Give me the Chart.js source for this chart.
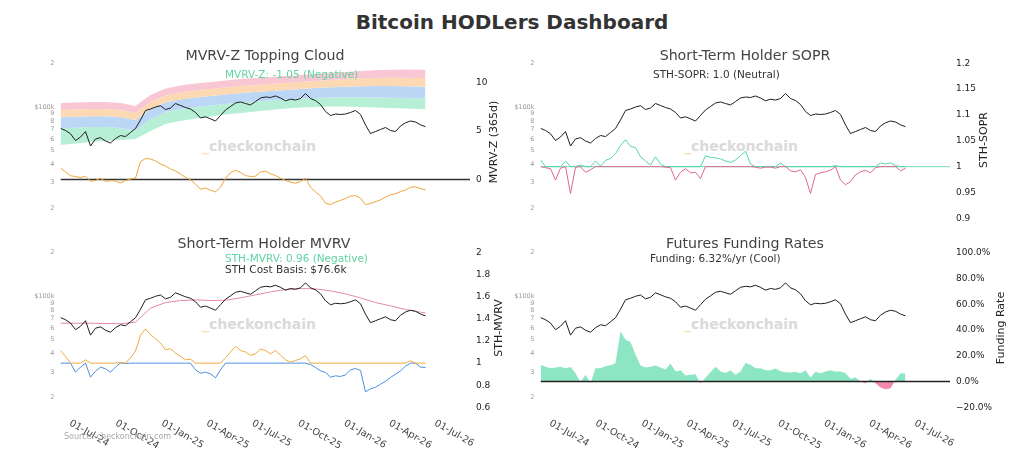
<!DOCTYPE html>
<html lang="en">
<head>
<meta charset="UTF-8" />
<title>Bitcoin HODLers Dashboard</title>
<script src="https://cdn.jsdelivr.net/npm/chart.js@4"></script>
<style>
  body { margin: 0; width: 1024px; height: 473px; background: #fff; position: relative; overflow: hidden;
         font-family: "DejaVu Sans", Verdana, sans-serif; }
  .box { position: absolute; }
  .t { position: absolute; white-space: nowrap; color: #333; }
  .c { transform: translate(-50%, -50%); }
  .l { transform: translateY(-50%); }
  .v { transform: translate(-50%, -50%) rotate(-90deg); font-size: 11px; color: #222; }
  .ttl { font-size: 14.2px; color: #444; }
  .sub { font-size: 10.5px; }
  .wm { font-weight: bold; font-size: 14px; color: #dadada; }
  .wm span { color: #f4e3b0; }
</style>
</head>
<body>
  <!-- watermarks sit under the charts -->
  <div class="t c wm" style="left:259px;top:146px"><span>_</span>checkonchain</div>
  <div class="t c wm" style="left:741px;top:146px"><span>_</span>checkonchain</div>
  <div class="t c wm" style="left:259px;top:324px"><span>_</span>checkonchain</div>
  <div class="t c wm" style="left:741px;top:324px"><span>_</span>checkonchain</div>

  <div class="box" style="left:0;top:40px;width:512px;height:190px"><canvas id="mvrvz"></canvas></div>
  <div class="box" style="left:490px;top:40px;width:534px;height:190px"><canvas id="sopr"></canvas></div>
  <div class="box" style="left:0;top:230px;width:512px;height:243px"><canvas id="mvrv"></canvas></div>
  <div class="box" style="left:490px;top:230px;width:534px;height:243px"><canvas id="funding"></canvas></div>

  <div class="t c" style="left:512px;top:22px;font-size:20px;font-weight:bold;color:#333">Bitcoin HODLers Dashboard</div>

  <div class="t c ttl" style="left:265px;top:55px">MVRV-Z Topping Cloud</div>
  <div class="t c ttl" style="left:745px;top:55px">Short-Term Holder SOPR</div>
  <div class="t c ttl" style="left:264px;top:243px">Short-Term Holder MVRV</div>
  <div class="t c ttl" style="left:745px;top:243px">Futures Funding Rates</div>

  <div class="t l sub" style="left:225px;top:74px;color:#5fd3a4">MVRV-Z: -1.05 (Negative)</div>
  <div class="t l sub" style="left:653px;top:74px">STH-SOPR: 1.0 (Neutral)</div>
  <div class="t l sub" style="left:225px;top:258px;color:#5fd3a4">STH-MVRV: 0.96 (Negative)</div>
  <div class="t l sub" style="left:225px;top:269px">STH Cost Basis: $76.6k</div>
  <div class="t l sub" style="left:650px;top:258px">Funding: 6.32%/yr (Cool)</div>

  <div class="t v" style="left:493px;top:142px">MVRV-Z (365d)</div>
  <div class="t v" style="left:983px;top:140px">STH-SOPR</div>
  <div class="t v" style="left:498px;top:328px">STH-MVRV</div>
  <div class="t v" style="left:1000px;top:328px">Funding Rate</div>

  <div class="t l" style="left:64px;top:436px;font-size:8px;color:#aaa">Source: checkonchain.com</div>

<script>
// daily-ish samples, one every 10 days from the first date
const startDate = '2024-06-07';
const stepDays = 10;

// BTC price, $k
const price = [71.2, 68.8, 65.3, 58.7, 62.0, 67.7, 53.8, 60.1, 61.4, 58.2, 56.4, 60.6, 63.5, 62.5, 66.6, 71.0,
  81.3, 94.5, 96.8, 99.9, 102.0, 96.0, 98.3, 105.6, 102.3, 99.1, 96.8, 91.6, 83.9, 85.5, 82.8, 80.0,
  87.3, 95.3, 100.7, 106.5, 108.2, 105.6, 103.2, 109.0, 115.3, 117.1, 116.2, 119.0, 115.3, 110.2, 113.1,
  111.6, 114.3, 123.8, 114.3, 110.7, 104.0, 93.0, 87.3, 89.4, 88.7, 89.4, 91.6, 94.5, 88.7, 75.1, 65.6,
  67.7, 69.9, 72.1, 68.8, 67.7, 73.9, 77.8, 80.0, 78.7, 75.3, 73.1];

const mvrvZ = [1.21, 0.78, 0.39, 0.31, 0.21, 0.34, -0.16, -0.10, 0.14, -0.21, -0.10, -0.16, -0.36, -0.10, 0.05,
  0.16, 1.86, 2.17, 2.12, 1.93, 1.60, 1.40, 1.09, 0.88, 0.57, 0.23, -0.03, -0.47, -1.00, -0.88, -1.10, -1.27,
  -0.78, 0.10, 0.72, 0.95, 0.74, 0.41, 0.31, 0.35, 0.78, 0.85, 0.59, 0.41, 0.16, -0.10, -0.26, -0.38, -0.21,
  0.13, -0.80, -1.27, -1.69, -2.43, -2.59, -2.33, -2.15, -1.96, -1.71, -1.65, -1.91, -2.59, -2.46, -2.28,
  -2.10, -1.83, -1.58, -1.47, -1.24, -1.07, -0.79, -0.75, -0.93, -1.05];

const sthSopr = [1.013, 0.998, 0.996, 0.974, 0.997, 1.011, 0.948, 0.999, 1.003, 0.989, 0.994, 1.011, 1.001,
  1.012, 1.016, 1.025, 1.041, 1.052, 1.039, 1.037, 1.019, 1.011, 1.003, 1.019, 1.005, 0.999, 0.998, 0.974,
  0.989, 0.996, 0.988, 0.989, 0.977, 1.021, 1.018, 1.017, 1.015, 1.011, 1.008, 1.013, 1.021, 1.030, 1.005,
  0.999, 0.997, 0.999, 0.999, 0.997, 1.007, 1.000, 0.992, 0.990, 0.994, 0.979, 0.948, 0.985, 0.988, 0.990,
  0.993, 1.002, 0.974, 0.965, 0.971, 0.984, 0.990, 0.993, 0.988, 0.998, 1.007, 1.005, 1.007, 1.002, 0.992, 0.997];

const sthMvrv = [1.115, 1.061, 1.000, 0.918, 0.964, 1.030, 0.873, 0.927, 0.964, 0.948, 0.918, 0.964, 1.006,
  0.997, 1.048, 1.109, 1.252, 1.310, 1.258, 1.221, 1.182, 1.121, 1.130, 1.091, 1.061, 1.030, 1.036, 0.939,
  0.909, 0.918, 0.903, 0.867, 0.939, 1.048, 1.100, 1.152, 1.115, 1.100, 1.070, 1.085, 1.127, 1.115, 1.085,
  1.115, 1.073, 1.030, 1.009, 1.024, 1.039, 1.067, 0.988, 0.961, 0.930, 0.915, 0.873, 0.885, 0.879, 0.894,
  0.939, 0.952, 0.933, 0.740, 0.767, 0.782, 0.809, 0.836, 0.870, 0.900, 0.930, 0.973, 1.021, 1.000, 0.964, 0.960];

// annualised funding, %
const funding = [13.0, 11.4, 10.4, 10.9, 11.4, 10.4, 11.2, 6.5, -0.5, 5.2, -1.3, 10.4, 10.4, 11.9, 12.7, 14.3,
  38.9, 32.4, 30.6, 20.8, 12.5, 10.9, 11.4, 12.5, 10.9, 9.3, 14.0, 7.8, 8.8, 4.7, 5.2, 5.7, -1.5, 3.0, 7.3,
  11.4, 7.8, 6.7, 8.8, 5.2, 7.8, 14.3, 13.0, 10.4, 10.4, 8.8, 8.8, 10.1, 8.0, 7.3, 7.0, 7.5, 6.5, 8.8, 3.1,
  7.5, 6.5, 7.8, 8.8, 7.8, 7.8, 6.5, 2.1, 3.1, 0.0, -1.3, 2.1, -1.3, -4.7, -6.0, -5.2, 1.3, 6.5, 6.3];

// smooth price-level lines, sampled every 30 days ($k)
const bandDays = [0, 30, 60, 90, 120, 150, 180, 210, 240, 270, 300, 330, 360, 390, 420, 450, 480, 510, 540,
  570, 600, 630, 660, 690, 720, 730];
const cloudTop = [106.4, 107.3, 108.2, 108.2, 106.4, 101.5, 120.9, 134.1, 140.6, 145.1, 148.6, 152.2, 155.8,
  158.4, 160.9, 163.5, 166.1, 168.7, 171.4, 174.2, 177.0, 179.0, 180.4, 181.3, 180.4, 179.8];
const cloudPinkOrange = [95.3, 96.0, 96.8, 96.8, 95.3, 90.8, 108.2, 119.9, 125.8, 129.9, 133.0, 136.2, 139.5,
  141.7, 144.0, 146.3, 148.6, 151.0, 153.4, 155.8, 157.6, 158.4, 158.9, 158.9, 158.4, 157.6];
const cloudOrangeBlue = [84.8, 85.5, 86.2, 86.2, 84.8, 81.3, 96.8, 107.3, 112.5, 116.2, 119.0, 121.9, 124.8,
  126.8, 128.8, 130.9, 133.0, 135.1, 136.6, 137.9, 138.8, 139.5, 139.5, 139.0, 138.4, 137.9];
const cloudBlueGreen = [71.2, 71.9, 72.7, 72.7, 71.6, 68.8, 82.6, 92.3, 96.8, 99.9, 102.3, 104.8, 107.3,
  109.0, 110.8, 112.5, 114.3, 115.3, 116.2, 116.6, 116.6, 116.2, 115.6, 115.3, 114.9, 114.7];
const cloudBottom = [54.6, 56.0, 57.3, 58.2, 59.2, 60.1, 68.2, 76.3, 80.0, 83.2, 85.9, 88.7, 90.8, 93.0,
  95.3, 97.6, 99.1, 99.9, 100.7, 100.7, 99.9, 99.1, 98.3, 97.6, 96.8, 96.3];
const costBasis = [65.1, 65.1, 65.1, 64.8, 64.5, 66.2, 82.7, 90.4, 93.4, 94.4, 93.4, 93.9, 97.4, 102.2, 107.2,
  111.2, 113.0, 112.4, 108.9, 103.8, 97.4, 90.4, 85.8, 80.9, 77.5, 76.6];

// ticks
const tickDates = ['2024-07-01', '2024-10-01', '2025-01-01', '2025-04-01', '2025-07-01', '2025-10-01',
  '2026-01-01', '2026-04-01', '2026-07-01'];
const tickLabels = ['01-Jul-24', '01-Oct-24', '01-Jan-25', '01-Apr-25', '01-Jul-25', '01-Oct-25',
  '01-Jan-26', '01-Apr-26', '01-Jul-26'];
const priceTicks = [20000, 30000, 40000, 50000, 60000, 70000, 80000, 90000, 100000, 200000];
const priceTickLabels = ['2', '3', '4', '5', '6', '7', '8', '9', '$100k', '2'];
const mvrvZTicks = [0, 5, 10];
const soprTicks = [0.9, 0.95, 1, 1.05, 1.1, 1.15, 1.2];
const mvrvTicks = [0.6, 0.8, 1, 1.2, 1.4, 1.6, 1.8, 2];
const fundingTicks = [-0.2, 0, 0.2, 0.4, 0.6, 0.8, 1];

Chart.defaults.font.family = '"DejaVu Sans", Verdana, sans-serif';

const day0 = Date.parse(startDate);
const dayOf = s => (Date.parse(s) - day0) / 864e5;
const series = (arr, f = v => v) => arr.map((v, i) => ({ x: i * stepDays, y: f(v) }));
const bandSeries = arr => arr.map((v, i) => ({ x: bandDays[i], y: v * 1000 }));
const lastDay = (price.length - 1) * stepDays;
const hline = v => [{ x: 0, y: v }, { x: 819, y: v }];

// rotated date labels, running down to the right
const dateTicks = {
  id: 'dateTicks',
  afterDraw(chart, args, opts) {
    if (!opts.show) return;
    const { ctx, chartArea, scales: { x } } = chart;
    ctx.save();
    ctx.font = '9.7px "DejaVu Sans"';
    ctx.fillStyle = '#444';
    ctx.textAlign = 'left';
    ctx.textBaseline = 'top';
    tickDates.forEach((d, i) => {
      ctx.save();
      ctx.translate(x.getPixelForValue(dayOf(d)), chartArea.bottom + 11);
      ctx.rotate(Math.PI / 6);
      ctx.fillText(tickLabels[i], 0, 0);
      ctx.restore();
    });
    ctx.restore();
  }
};

const priceLine = () => ({ data: series(price, v => v * 1000), yAxisID: 'yP', borderColor: '#1e1e1e', borderWidth: 1, order: 0 });

function panel(id, o) {
  return new Chart(document.getElementById(id), {
    type: 'line',
    data: { datasets: o.datasets },
    options: {
      responsive: true,
      maintainAspectRatio: false,
      animation: false,
      layout: { padding: { top: o.top, bottom: o.bottom, left: 0, right: 0 } },
      plugins: { legend: { display: false }, tooltip: { enabled: false }, dateTicks: { show: o.dates } },
      elements: { point: { radius: 0 }, line: { borderWidth: 1, tension: 0 } },
      scales: {
        x: { type: 'linear', min: 0, max: 819, display: false },
        yP: {
          type: 'logarithmic', position: 'left', min: 17060, max: 200000, bounds: 'data',
          afterFit: a => { a.width = o.leftW; },
          afterBuildTicks: a => { a.ticks = priceTicks.map(v => ({ value: v })); },
          grid: { display: false, drawTicks: false }, border: { display: false },
          ticks: { autoSkip: false, padding: 6, color: '#9a9a9a', font: { size: 6.5 },
                   callback: v => priceTickLabels[priceTicks.indexOf(v)] }
        },
        yR: {
          type: 'linear', position: 'right', min: o.rMin, max: o.rMax, bounds: 'data',
          afterFit: a => { a.width = o.rightW; },
          afterBuildTicks: a => { a.ticks = o.rTicks.map(v => ({ value: v })); },
          grid: { display: false, drawTicks: false }, border: { display: false },
          ticks: { autoSkip: false, padding: 6, color: '#222', font: { size: 9 }, callback: o.rFmt }
        }
      }
    },
    plugins: [dateTicks]
  });
}

const band = (arr, color, order) => ({ data: bandSeries(arr), yAxisID: 'yP', borderWidth: 0,
  borderColor: 'rgba(0,0,0,0)', backgroundColor: color, fill: color ? '-1' : false, order });
const plain = v => String(+v.toFixed(2));

// MVRV-Z topping cloud
panel('mvrvz', {
  top: 23.3, bottom: 11.7, leftW: 60.5, rightW: 42, dates: false,
  rMin: -4, rMax: 12, rTicks: mvrvZTicks, rFmt: plain,
  datasets: [
    band(cloudBottom, null, 9),
    band(cloudBlueGreen, '#b7eed6', 8),
    band(cloudOrangeBlue, '#bcd7f6', 7),
    band(cloudPinkOrange, '#fcd9b2', 6),
    band(cloudTop, '#f9c7d3', 5),
    priceLine(),
    { data: hline(0), yAxisID: 'yR', borderColor: '#333', borderWidth: 1.5, order: 2 },
    { data: series(mvrvZ), yAxisID: 'yR', borderColor: '#f0a43a', borderWidth: 1, order: 1 }
  ]
});

// STH SOPR
panel('sopr', {
  top: 23.3, bottom: 11.7, leftW: 50.5, rightW: 74, dates: false,
  rMin: 0.9, rMax: 1.2, rTicks: soprTicks, rFmt: plain,
  datasets: [
    priceLine(),
    { data: hline(1), yAxisID: 'yR', borderColor: '#8fe2c2', borderWidth: 1.2, order: 4 },
    { data: series(sthSopr, v => Math.max(v, 1)), yAxisID: 'yR', borderColor: '#52d6a2', borderWidth: 1, order: 2 },
    { data: series(sthSopr, v => Math.min(v, 1)), yAxisID: 'yR', borderColor: '#e0668f', borderWidth: 1, order: 1 }
  ]
});

// STH MVRV
panel('mvrv', {
  top: 22.7, bottom: 65.7, leftW: 60.5, rightW: 42, dates: true,
  rMin: 0.6, rMax: 2, rTicks: mvrvTicks, rFmt: plain,
  datasets: [
    priceLine(),
    { data: bandSeries(costBasis), yAxisID: 'yP', borderColor: '#e38aa6', borderWidth: 1, order: 1 },
    { data: series(sthMvrv, v => Math.max(v, 1)), yAxisID: 'yR', borderColor: '#f0a93c', borderWidth: 1, order: 2 },
    { data: series(sthMvrv, v => Math.min(v, 1)), yAxisID: 'yR', borderColor: '#4a8fe0', borderWidth: 1, order: 3 }
  ]
});

// funding rates
panel('funding', {
  top: 22.7, bottom: 65.7, leftW: 50.5, rightW: 74, dates: true,
  rMin: -0.2, rMax: 1, rTicks: fundingTicks,
  rFmt: v => (v < 0 ? '\u2212' : '') + Math.abs(v * 100).toFixed(1) + '%',
  datasets: [
    priceLine(),
    { data: hline(0), yAxisID: 'yR', borderColor: '#222', borderWidth: 1.5, order: 1 },
    { data: series(funding, v => v / 100), yAxisID: 'yR', borderWidth: 0, borderColor: 'rgba(0,0,0,0)',
      fill: { target: { value: 0 }, above: 'rgba(112,224,180,0.8)', below: 'rgba(240,118,154,0.85)' }, order: 2 }
  ]
});
</script>
</body>
</html>
